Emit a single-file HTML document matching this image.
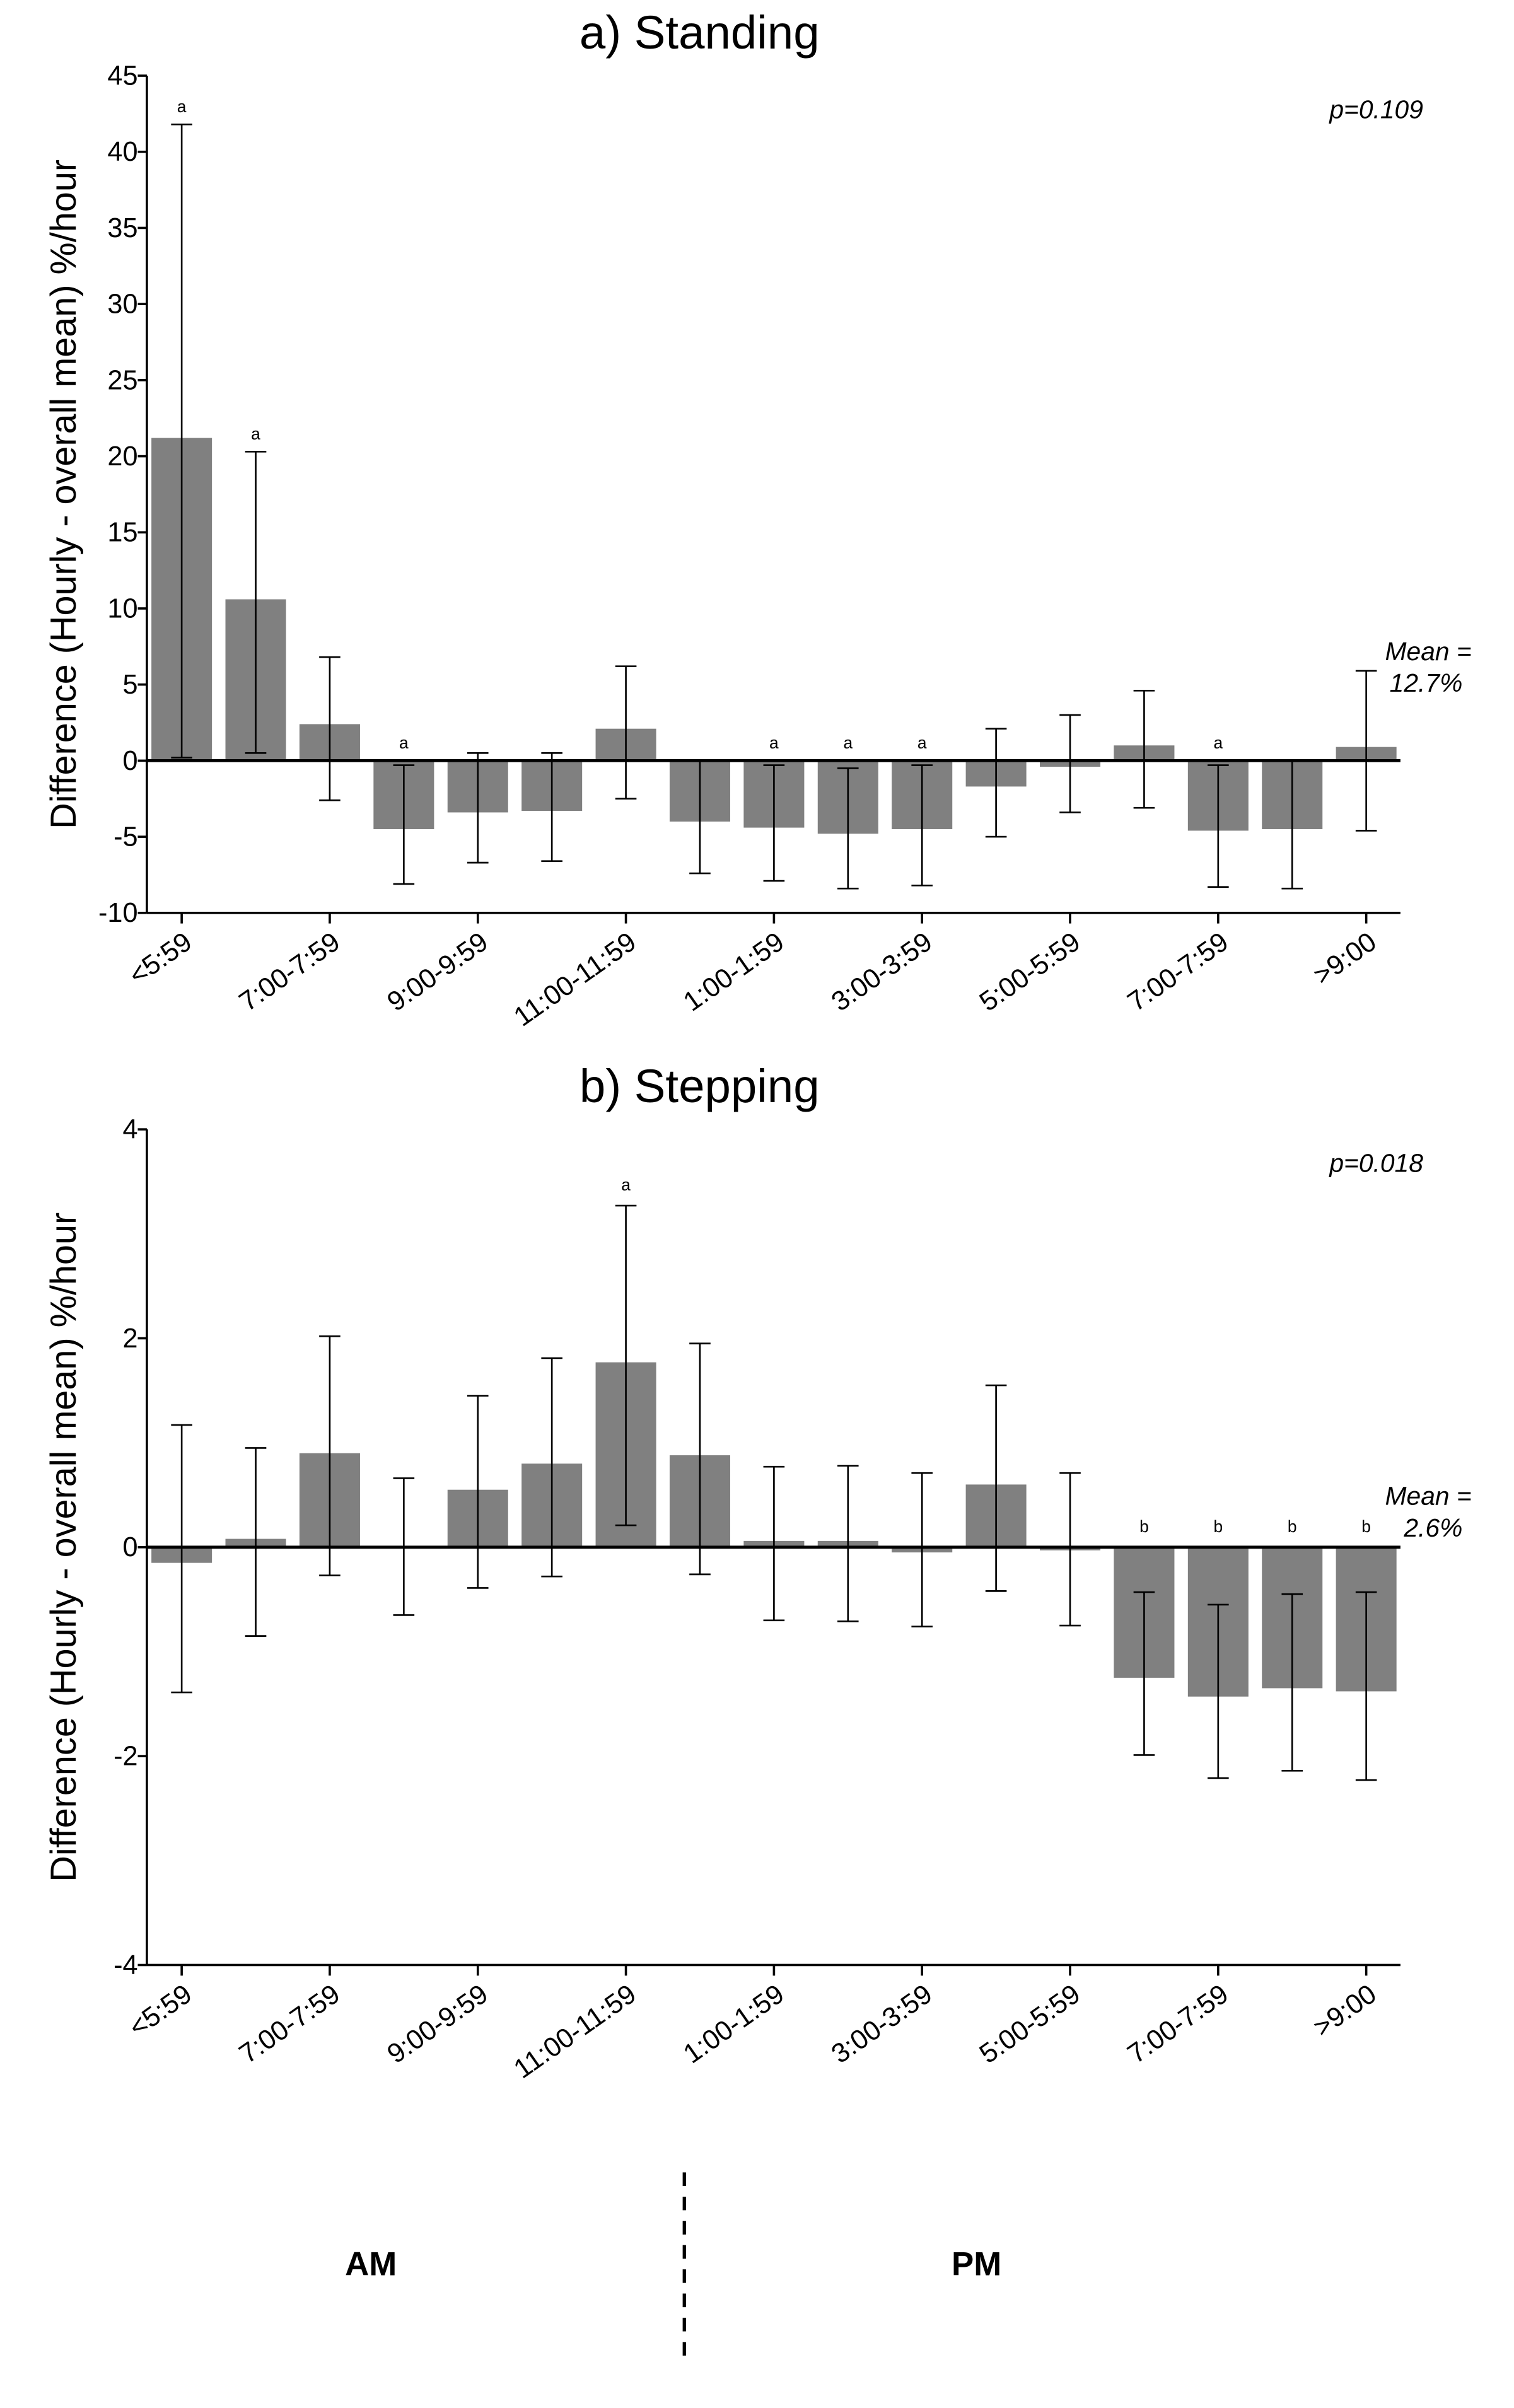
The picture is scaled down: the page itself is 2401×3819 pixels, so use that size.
<!DOCTYPE html>
<html><head><meta charset="utf-8"><style>
html,body{margin:0;padding:0;background:#fff}
svg{display:block;font-family:"Liberation Sans",Arial,sans-serif}
</style></head><body>
<svg id="root" width="2401" height="3819" viewBox="0 0 1000 1590.6" xmlns="http://www.w3.org/2000/svg">
<g id="chartA"></g>
<g id="chartB"></g>
<line x1="452" y1="1435" x2="452" y2="1556" stroke="#000" stroke-width="2.2" stroke-dasharray="9,7"/>
<text x="245" y="1503" font-size="22" font-weight="bold" text-anchor="middle">AM</text>
<text x="645" y="1503" font-size="22" font-weight="bold" text-anchor="middle">PM</text>
</svg>
<script>
const categories = ["<5:59","6:00-6:59","7:00-7:59","8:00-8:59","9:00-9:59","10:00-10:59","11:00-11:59","12:00-12:59","1:00-1:59","2:00-2:59","3:00-3:59","4:00-4:59","5:00-5:59","6:00-6:59","7:00-7:59","8:00-8:59",">9:00"];
const standingMean = [21.2,10.6,2.4,-4.5,-3.4,-3.3,2.1,-4.0,-4.4,-4.8,-4.5,-1.7,-0.4,1.0,-4.6,-4.5,0.9];
const standingHigh = [41.8,20.3,6.8,-0.3,0.5,0.5,6.2,0,-0.3,-0.5,-0.3,2.1,3.0,4.6,-0.3,0,5.9];
const standingLow = [0.2,0.5,-2.6,-8.1,-6.7,-6.6,-2.5,-7.4,-7.9,-8.4,-8.2,-5.0,-3.4,-3.1,-8.3,-8.4,-4.6];
const standingLetters = ["a","a","","a","","","","","a","a","a","","","","a","",""];
const standingTicks = [45,40,35,30,25,20,15,10,5,0,-5,-10];
const steppingMean = [-0.15,0.08,0.9,0,0.55,0.8,1.77,0.88,0.06,0.06,-0.05,0.6,-0.03,-1.25,-1.43,-1.35,-1.38];
const steppingHigh = [1.17,0.95,2.02,0.66,1.45,1.81,3.27,1.95,0.77,0.78,0.71,1.55,0.71,-0.43,-0.55,-0.45,-0.43];
const steppingLow = [-1.39,-0.85,-0.27,-0.65,-0.39,-0.28,0.21,-0.26,-0.7,-0.71,-0.76,-0.42,-0.75,-1.99,-2.21,-2.14,-2.23];
const steppingLetters = ["","","","","","","a","","","","","","","b","b","b","b"];
const steppingTicks = [4,2,0,-2,-4];

const NS="http://www.w3.org/2000/svg";
function mk(parent,tag,attrs,text){const e=document.createElementNS(NS,tag);for(const k in attrs)e.setAttribute(k,attrs[k]);if(text!==undefined)e.textContent=text;parent.appendChild(e);return e;}

function drawChart(g,cfg){
  const x0=97,x1=925,yTop=cfg.top,yBot=cfg.bottom;
  const y=v=>yBot-(v-cfg.min)/(cfg.max-cfg.min)*(yBot-yTop);
  const x=i=>120+i*48.9;
  const t=mk(g,'text',{x:462,y:cfg.top-18,'font-size':31,'text-anchor':'middle'},cfg.title);
  
  
  const yt=mk(g,'text',{x:0,y:0,'font-size':24,'text-anchor':'middle',transform:`translate(50,${(yTop+yBot)/2}) rotate(-90)`},'Difference  (Hourly - overall mean) %/hour');
  
  
  cfg.mean.forEach((m,i)=>{
    const b=mk(g,'rect',{x:x(i)-20,y:Math.min(y(m),y(0)),width:40,height:Math.abs(y(m)-y(0)),fill:'#808080'});
    
    
  });
  cfg.mean.forEach((m,i)=>{
    const e=mk(g,'path',{d:`M${x(i)},${y(cfg.high[i])}V${y(cfg.low[i])}M${x(i)-7},${y(cfg.high[i])}h14M${x(i)-7},${y(cfg.low[i])}h14`,stroke:'#000','stroke-width':1.1,fill:'none'});
    
    
    if(cfg.letters[i]){
      const top=Math.max(cfg.high[i],0,m);
      const l=mk(g,'text',{x:x(i),y:y(top)-(cfg.letterOff||9),'font-size':11,'text-anchor':'middle'},cfg.letters[i]);
      
      
    }
  });
  const z=mk(g,'line',{x1:x0,x2:x1,y1:y(0),y2:y(0),stroke:'#000','stroke-width':2});
  
  
  const ya=mk(g,'line',{x1:x0,x2:x0,y1:yTop,y2:yBot,stroke:'#000','stroke-width':1.5});
  
  
  const xa=mk(g,'line',{x1:x0,x2:x1,y1:yBot,y2:yBot,stroke:'#000','stroke-width':1.5});
  
  
  cfg.ticks.forEach(v=>{
    mk(g,'line',{x1:x0-6,x2:x0,y1:y(v),y2:y(v),stroke:'#000','stroke-width':1.5});
    const tl=mk(g,'text',{x:x0-6,y:y(v)+6,'font-size':18,'text-anchor':'end'},String(v));
    
    
  });
  categories.forEach((c,i)=>{
    if(i%2) return;
    mk(g,'line',{x1:x(i),x2:x(i),y1:yBot,y2:yBot+7,stroke:'#000','stroke-width':1.5});
    const xl=mk(g,'text',{x:0,y:0,'font-size':18,'text-anchor':'end',transform:`translate(${x(i)+8},${yBot+22}) rotate(-35)`},c);
    
    
  });
  const p=mk(g,'text',{x:940,y:yTop+28,'font-size':17,'font-style':'italic','text-anchor':'end'},cfg.p);
  
  
  const m1=mk(g,'text',{x:972,y:cfg.meanY,'font-size':17,'font-style':'italic','text-anchor':'end'},'Mean =');
  
  
  const m2=mk(g,'text',{x:966,y:cfg.meanY+21,'font-size':17,'font-style':'italic','text-anchor':'end'},cfg.meanVal);
  
  
}
drawChart(document.getElementById('chartA'),{title:'a) Standing',top:50,bottom:603,min:-10,max:45,mean:standingMean,high:standingHigh,low:standingLow,letters:standingLetters,ticks:standingTicks,p:'p=0.109',meanY:436,meanVal:'12.7%',letterOff:8});
drawChart(document.getElementById('chartB'),{title:'b) Stepping',top:746,bottom:1298,min:-4,max:4,mean:steppingMean,high:steppingHigh,low:steppingLow,letters:steppingLetters,ticks:steppingTicks,p:'p=0.018',meanY:994,meanVal:'2.6%',letterOff:10});
</script>
</body></html>
